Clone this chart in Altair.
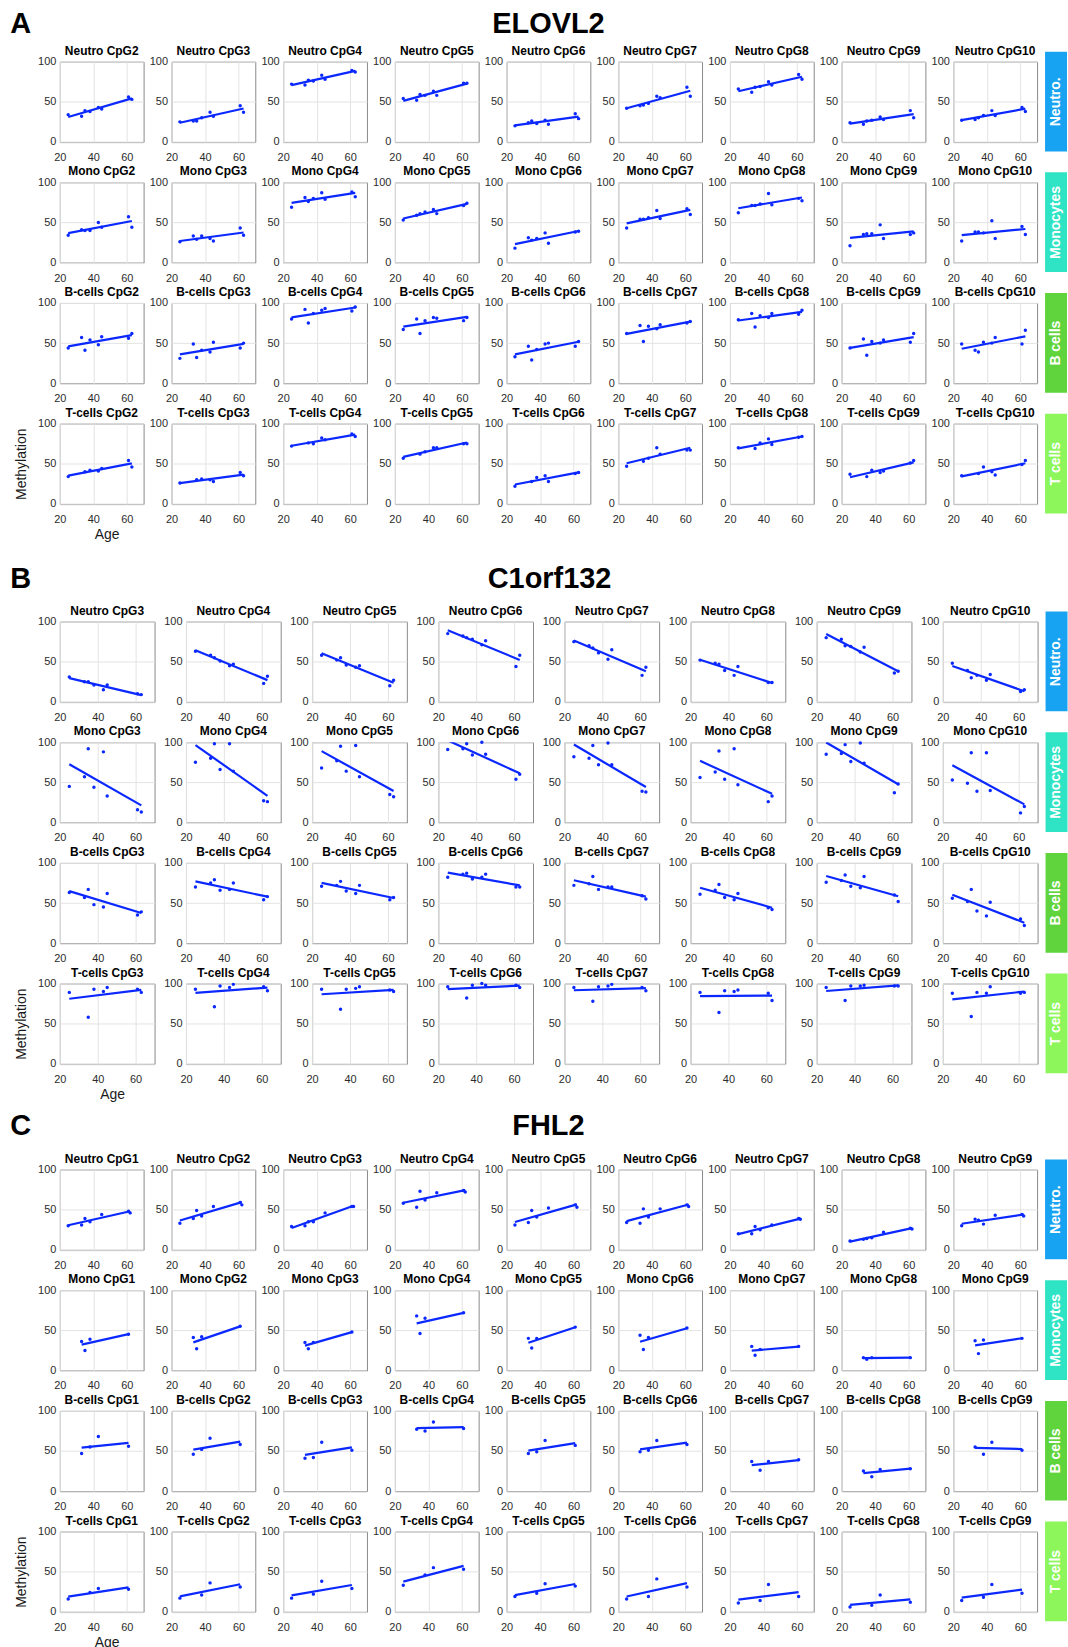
import altair as alt
import pandas as pd

FONT = "Liberation Sans"
BLUE = "#0a28ff"

CELL_NAMES = ["Neutro", "Mono", "B-cells", "T-cells"]
SIDE_LABELS = ["Neutro.", "Monocytes", "B cells", "T cells"]
SIDE_COLORS = ["#17a3f2", "#2fe3c5", "#5fd43c", "#8cf65a"]

# ---------------- ELOVL2 ----------------
ELOVL2_SITES = ["CpG2", "CpG3", "CpG4", "CpG5", "CpG6", "CpG7", "CpG8", "CpG9", "CpG10"]
ELOVL2_AGES = [25, 33, 35, 38, 43, 45, 61, 63]
ELOVL2_AGES_T = [25, 35, 38, 43, 45, 61, 63]
ELOVL2_NEUTRO = [
    [34, 32, 39, 38, 43, 41, 56, 53],
    [25, 26, 26, 30, 37, 32, 45, 37],
    [72, 71, 77, 76, 83, 78, 89, 87],
    [54, 52, 59, 58, 63, 58, 73, 73],
    [20, 24, 26, 23, 27, 22, 35, 29],
    [42, 45, 46, 48, 57, 55, 68, 57],
    [66, 62, 68, 69, 75, 71, 84, 78],
    [24, 22, 26, 27, 31, 28, 39, 30],
    [27, 28, 30, 33, 39, 33, 43, 38],
]
ELOVL2_MONO = [
    [34, 41, 40, 40, 50, 44, 57, 44],
    [26, 33, 29, 33, 30, 27, 43, 34],
    [69, 81, 76, 80, 87, 79, 88, 82],
    [53, 59, 61, 63, 66, 61, 71, 74],
    [18, 31, 28, 30, 37, 24, 38, 39],
    [43, 54, 54, 56, 65, 55, 67, 60],
    [62, 71, 71, 73, 86, 72, 80, 77],
    [21, 35, 36, 36, 47, 30, 35, 37],
    [27, 38, 38, 37, 52, 30, 45, 35],
]
ELOVL2_BCELL = [
    [44, 57, 41, 54, 48, 58, 56, 62],
    [31, 49, 32, 41, 39, 51, 44, 50],
    [80, 92, 75, 87, 91, 93, 90, 95],
    [67, 80, 62, 78, 82, 81, 78, 82],
    [33, 46, 29, 42, 49, 50, 46, 52],
    [62, 72, 52, 71, 68, 73, 75, 77],
    [79, 87, 70, 84, 82, 87, 86, 91],
    [44, 55, 35, 52, 50, 54, 51, 62],
    [49, 41, 39, 51, 50, 57, 49, 66],
]
ELOVL2_TCELL = [
    [34, 40, 42, 41, 44, 54, 46],
    [26, 30, 31, 30, 28, 39, 35],
    [72, 76, 75, 82, 80, 87, 84],
    [57, 62, 65, 70, 70, 75, 75],
    [22, 28, 33, 35, 28, 38, 39],
    [47, 53, 57, 70, 62, 67, 67],
    [70, 69, 76, 81, 74, 83, 84],
    [37, 34, 42, 39, 41, 51, 54],
    [35, 38, 46, 40, 36, 49, 54],
]

# ---------------- C1orf132 ----------------
C1ORF_SITES = ["CpG3", "CpG4", "CpG5", "CpG6", "CpG7", "CpG8", "CpG9", "CpG10"]
C1ORF_AGES = [25, 33, 35, 38, 43, 45, 61, 63]
C1ORF_AGES_T = [25, 35, 38, 43, 45, 61, 63]
C1ORF_NEUTRO = [
    [31, 25, 25, 21, 15, 21, 10, 9],
    [63, 58, 55, 51, 45, 47, 23, 32],
    [58, 52, 55, 46, 43, 45, 20, 27],
    [85, 82, 80, 78, 71, 76, 44, 58],
    [75, 70, 67, 61, 53, 65, 33, 43],
    [52, 48, 47, 39, 33, 44, 24, 24],
    [80, 78, 70, 69, 62, 68, 36, 38],
    [48, 39, 30, 33, 27, 34, 13, 15],
]
C1ORF_MONO = [
    [45, 57, 92, 44, 88, 33, 16, 13],
    [75, 80, 98, 66, 98, 64, 27, 26],
    [68, 77, 95, 64, 96, 57, 35, 32],
    [91, 92, 98, 84, 100, 85, 54, 60],
    [82, 80, 96, 72, 99, 72, 39, 38],
    [56, 63, 89, 54, 92, 47, 26, 33],
    [85, 86, 97, 76, 99, 74, 37, 48],
    [53, 49, 87, 39, 87, 40, 12, 20],
]
C1ORF_BCELL = [
    [63, 57, 67, 48, 45, 62, 35, 39],
    [70, 75, 79, 66, 67, 75, 54, 58],
    [71, 72, 77, 65, 62, 72, 54, 57],
    [82, 86, 87, 80, 82, 86, 70, 70],
    [72, 74, 83, 67, 70, 70, 59, 55],
    [61, 66, 73, 57, 54, 62, 44, 42],
    [76, 78, 85, 71, 69, 83, 60, 52],
    [56, 52, 67, 40, 34, 51, 30, 22],
]
C1ORF_TCELL = [
    [89, 58, 93, 90, 95, 93, 89],
    [93, 71, 97, 95, 99, 96, 91],
    [93, 68, 93, 94, 96, 92, 90],
    [96, 82, 98, 100, 98, 98, 95],
    [95, 78, 96, 97, 99, 95, 91],
    [89, 64, 91, 90, 92, 88, 79],
    [95, 79, 97, 97, 98, 97, 97],
    [88, 59, 89, 88, 96, 88, 89],
]

# ---------------- FHL2 ----------------
FHL2_SITES = ["CpG1", "CpG2", "CpG3", "CpG4", "CpG5", "CpG6", "CpG7", "CpG8", "CpG9"]
FHL2_AGES_NEUTRO = [25, 33, 35, 38, 45, 61, 62]
FHL2_AGES_MONO = [33, 35, 38, 61]
FHL2_AGES_BCELL = [33, 38, 43, 61]
FHL2_AGES_TCELL = [25, 38, 43, 61]
FHL2_NEUTRO = [
    [30, 31, 39, 35, 44, 48, 46],
    [33, 39, 49, 42, 54, 59, 56],
    [29, 30, 35, 35, 46, 54, 54],
    [58, 53, 73, 62, 71, 74, 72],
    [31, 34, 49, 41, 52, 56, 53],
    [34, 33, 51, 41, 51, 56, 54],
    [20, 20, 29, 25, 31, 39, 38],
    [11, 13, 14, 15, 22, 27, 26],
    [30, 38, 37, 32, 43, 44, 42],
]
FHL2_MONO = [
    [36, 25, 39, 45],
    [41, 27, 42, 55],
    [35, 27, 35, 48],
    [68, 46, 65, 72],
    [40, 28, 40, 54],
    [44, 26, 41, 53],
    [30, 19, 26, 30],
    [16, 14, 16, 16],
    [37, 21, 38, 40],
]
FHL2_BCELL = [
    [47, 55, 68, 56],
    [46, 52, 66, 58],
    [41, 42, 61, 51],
    [77, 75, 86, 78],
    [47, 49, 63, 57],
    [49, 51, 63, 58],
    [37, 26, 37, 39],
    [25, 18, 27, 28],
    [55, 46, 61, 51],
]
FHL2_TCELL = [
    [16, 24, 29, 28],
    [17, 21, 36, 31],
    [17, 22, 38, 29],
    [33, 46, 55, 53],
    [19, 23, 35, 32],
    [16, 19, 41, 31],
    [11, 14, 34, 19],
    [6, 8, 21, 12],
    [14, 18, 34, 23],
]

PLOT_H = 80.5
ROW_GAP = 40


def text_layer(label, x, y, **style):
    return alt.Chart(pd.DataFrame({"t": [label]})).mark_text(font=FONT, **style).encode(
        text="t:N", x=alt.value(x), y=alt.value(y)
    )


def side_label(row, w, h):
    src = alt.Chart(pd.DataFrame({"t": [SIDE_LABELS[row]]}))
    box = src.mark_rect(color=SIDE_COLORS[row]).encode(
        x=alt.value(w + 8), x2=alt.value(w + 30), y=alt.value(-10), y2=alt.value(h + 9.5)
    )
    lab = src.mark_text(
        font=FONT, fontSize=14, fontWeight="bold", color="white", angle=270,
        align="center", baseline="middle",
    ).encode(text="t:N", x=alt.value(w + 18.5), y=alt.value(h / 2))
    return [box, lab]


def panel(title, ages, values, w, h, axis_titles=False, extras=()):
    df = pd.DataFrame({"Age": ages, "Methylation": values})
    xaxis = dict(values=[20, 40, 60], title=None)
    yaxis = dict(values=[0, 50, 100], title=None)
    if axis_titles:
        xaxis.update(title="Age", titleX=w / 2 + 5)
        yaxis.update(title="Methylation")
    x = alt.X("Age:Q", scale=alt.Scale(domain=[20, 70], nice=False, zero=False), axis=alt.Axis(**xaxis))
    y = alt.Y("Methylation:Q", scale=alt.Scale(domain=[0, 100], nice=False, zero=False), axis=alt.Axis(**yaxis))
    base = alt.Chart(df)
    dots = base.mark_circle(size=12, color=BLUE, opacity=1).encode(x=x, y=y)
    fit = base.transform_regression("Age", "Methylation").mark_line(
        color=BLUE, strokeWidth=2.2, clip=True
    ).encode(x=x, y=y)
    ttl = text_layer(title, w / 2, -7, fontSize=12, fontWeight="bold", color="black",
                     align="center", baseline="alphabetic")
    return alt.layer(dots, fit, ttl, *extras).properties(width=w, height=h)


def section(letter, gene, sites, ages_rows, value_rows, w, gap, title_col, title_x, title_dy):
    n = len(sites)
    cells = []
    for r in range(4):
        for c in range(n):
            extras = []
            if r == 0 and c == 0:
                extras.append(text_layer(letter, -49.6, title_dy, fontSize=29, fontWeight="bold",
                                         color="black", align="left", baseline="alphabetic"))
            if r == 0 and c == title_col:
                extras.append(text_layer(gene, title_x, title_dy, fontSize=29, fontWeight="bold",
                                         color="black", align="center", baseline="alphabetic"))
            if c == n - 1:
                extras.extend(side_label(r, w, PLOT_H))
            cells.append(
                panel(f"{CELL_NAMES[r]} {sites[c]}", ages_rows[r], value_rows[r][c], w, PLOT_H,
                      axis_titles=(r == 3 and c == 0), extras=extras)
            )
    return alt.concat(*cells, columns=n, spacing={"row": ROW_GAP, "column": gap},
                      bounds="flush", align="each")


sec_a = section(
    "A", "ELOVL2", ELOVL2_SITES,
    [ELOVL2_AGES, ELOVL2_AGES, ELOVL2_AGES, ELOVL2_AGES_T],
    [ELOVL2_NEUTRO, ELOVL2_MONO, ELOVL2_BCELL, ELOVL2_TCELL],
    w=84, gap=28, title_col=4, title_x=42, title_dy=-29,
)
sec_b = section(
    "B", "C1orf132", C1ORF_SITES,
    [C1ORF_AGES, C1ORF_AGES, C1ORF_AGES, C1ORF_AGES_T],
    [C1ORF_NEUTRO, C1ORF_MONO, C1ORF_BCELL, C1ORF_TCELL],
    w=95, gap=31.5, title_col=3, title_x=111.6, title_dy=-34,
)
sec_c = section(
    "C", "FHL2", FHL2_SITES,
    [FHL2_AGES_NEUTRO, FHL2_AGES_MONO, FHL2_AGES_BCELL, FHL2_AGES_TCELL],
    [FHL2_NEUTRO, FHL2_MONO, FHL2_BCELL, FHL2_TCELL],
    w=84, gap=28, title_col=4, title_x=42, title_dy=-35,
)

chart = alt.vconcat(sec_a, alt.vconcat(sec_b, sec_c, spacing=8.5), spacing=21.5).properties(
    padding={"left": 9, "top": 6.5, "right": 0, "bottom": 0},
    background="white",
).configure_view(
    stroke="#8a8a8a", strokeWidth=1
).configure_axis(
    grid=True, gridColor="#e3e3e3", gridWidth=1, domain=False, ticks=False,
    labelFont=FONT, labelFontSize=11, labelColor="#2b2b2b", labelFlush=False,
    titleFont=FONT, titleFontSize=14, titleFontWeight="normal", titleColor="#1a1a1a",
).configure_axisX(
    labelPadding=9.5, titlePadding=3.5
).configure_axisY(
    labelPadding=4, titlePadding=9.5
)

chart.save("out.html", embed_options={"renderer": "svg", "actions": False})
